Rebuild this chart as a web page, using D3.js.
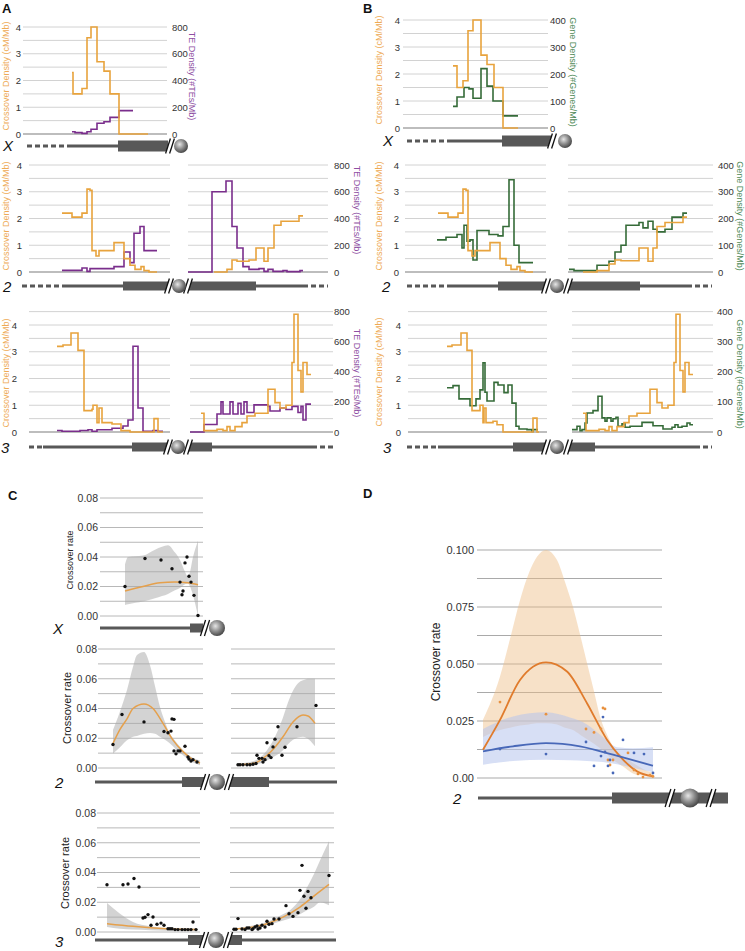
<!DOCTYPE html>
<html><head><meta charset="utf-8">
<script src="https://cdn.jsdelivr.net/npm/d3@7"></script>
<style>body{margin:0;background:#fff}svg{display:block}</style>
</head><body>
<svg id="c" width="745" height="951" font-family="'Liberation Sans', Arial, sans-serif"></svg>
<script>
// ===================== DATA =====================
// Panels A/B: step series as [bin start, value]; the last pair closes the final bin.
// Positions are arm-relative units; crossover density in cM/Mb, TE density #TEs/Mb, gene density #Genes/Mb
const xoA_X  = [[49,2.3],[50,1.5],[59,1.7],[64,3.6],[68,4.0],[74,2.7],[81,2.35],[87,1.5],[96,0],[125,0]];
const teA_X  = [[49,17],[52,10],[59,5],[64,17],[68,35],[74,80],[81,92],[87,124],[96,175],[110,175]];
const xoB_X  = [[50,2.3],[54,1.5],[60,1.75],[65,3.6],[70,4.0],[78,2.7],[84,2.35],[91,1.5],[100,0],[115,0]];
const geneB_X= [[50,80],[54,115],[61,150],[66,145],[70,110],[78,220],[84,155],[90,100],[100,45],[115,45]];

const xo2L   = [[33,2.2],[43,2.05],[53,2.2],[58,3.1],[61,3.05],[63,0.8],[67,0.6],[70,0.8],[85,1.1],[95,0.5],[101,0.25],[106,0.1],[112,0.2],[115,0.05],[120,0],[128,0]];
const te2L   = [[33,12],[53,30],[58,5],[61,25],[85,40],[95,150],[101,70],[105,290],[111,340],[115,160],[128,160]];
const gene2L = [[32,120],[41,130],[52,140],[57,90],[59,175],[62,115],[65,120],[68,45],[72,155],[84,140],[93,135],[98,170],[104,345],[109,100],[114,35],[128,35]];
const xo2R_A = [[26,0],[39,0.1],[44,0.45],[49,0.4],[61,0.45],[68,0.9],[76,0.4],[80,0.9],[86,1.75],[93,1.9],[111,2.1],[115,2.1]];
const te2R   = [[0,0],[24,600],[38,680],[44,340],[49,180],[55,40],[61,20],[71,25],[76,5],[80,20],[85,5],[95,10],[99,3],[112,10],[115,10]];
const xo2R_B = [[15,0],[29,0.05],[41,0.3],[47,0.45],[53,0.42],[71,0.9],[80,0.4],[85,0.9],[89,1.7],[97,1.85],[115,2.05],[119,2.05]];
const gene2R = [[1,10],[6,5],[15,5],[29,25],[41,40],[47,75],[53,100],[58,175],[71,185],[75,165],[80,190],[85,160],[89,150],[97,160],[104,205],[115,220],[119,220]];

const xo3L_A = [[28,3.2],[34,3.25],[42,3.7],[49,3.05],[55,0.8],[63,0.85],[64,1.0],[68,0.35],[70,0.9],[73,0.35],[83,0.3],[92,0.05],[101,0],[125,0.5],[129,0],[134,0]];
const te3L   = [[28,10],[33,5],[43,5],[51,10],[59,15],[63,5],[68,15],[83,25],[94,40],[99,80],[104,570],[109,160],[114,5],[124,10],[129,5],[134,5]];
const xo3L_B = [[39,3.2],[44,3.25],[53,3.7],[59,3.05],[64,0.8],[72,1.0],[75,0.35],[76,0.9],[78,0.35],[85,0.4],[89,0.27],[95,0],[125,0.52],[129,0],[131,0]];
const gene3L = [[39,147],[45,154],[51,110],[62,87],[68,110],[72,140],[75,230],[77,132],[79,103],[86,165],[90,156],[96,131],[100,156],[104,96],[108,19],[111,10],[119,8],[124,2],[125,8],[130,8]];
const xo3R   = [[11,0.7],[14,0.05],[27,0.1],[33,0.05],[37,0.2],[40,0.05],[45,0.2],[52,0.35],[57,0.6],[65,0.7],[78,1.6],[85,1.1],[90,0.9],[96,1.0],[102,2.6],[104,4.4],[108,2.3],[111,1.5],[113,2.6],[117,2.15],[121,2.15]];
const te3R   = [[0,0],[14,50],[27,120],[31,200],[33,120],[40,200],[43,120],[48,190],[51,120],[54,200],[57,130],[64,180],[78,170],[80,140],[90,160],[96,150],[102,170],[108,130],[111,170],[113,80],[116,185],[121,185]];
const gene3R = [[0,8],[5,19],[8,4],[10,8],[13,30],[15,63],[21,71],[26,119],[30,47],[33,36],[35,47],[39,36],[41,44],[44,49],[46,19],[50,27],[53,16],[58,19],[70,32],[81,21],[91,10],[100,16],[103,24],[106,16],[110,19],[115,30],[118,24],[121,24]];

const cmTicks   = [0,1,2,3,4];
const teTicks   = [0,200,400,600,800];
const geneTicks = [0,100,200,300,400];

// Panel C: crossover rate points, fitted curve, and CI band [pos, lower, upper]
const ptsCX  = [[25,0.020],[45,0.039],[61,0.038],[72,0.032],[80,0.023],[82,0.0144],[83,0.017],[85,0.036],[87,0.040],[89,0.027],[91,0.023],[94,0.014],[98,0.0003]];
const fitCX  = [[25,0.017],[43,0.020],[60,0.0225],[75,0.023],[88,0.0225],[98,0.0212]];
const bandCX = [[25,0.0075,0.035],[28,0.008,0.040],[43,0.0098,0.041],[55,0.012,0.045],[62,0.0135,0.047],[68,0.015,0.048],[75,0.0175,0.043],[80,0.019,0.038],[85,0.0215,0.030],[88,0.022,0.0265],[90,0.020,0.030],[93,0.014,0.040],[96,0.006,0.047],[98,0.0,0.051]];

const ptsC2L  = [[15,0.0158],[24,0.036],[46,0.031],[66,0.0245],[70,0.0237],[73,0.0248],[74,0.033],[76,0.0327],[76,0.0115],[78,0.0095],[80,0.0115],[82,0.0115],[87,0.0146],[90,0.0074],[91,0.006],[93,0.0047],[95,0.0056],[99,0.004]];
const fitC2L  = [[15,0.0165],[22,0.026],[29,0.033],[35,0.040],[46,0.043],[55,0.040],[65,0.030],[75,0.0187],[85,0.011],[95,0.0056],[102,0.0034]];
const bandC2L = [[15,0.0097,0.0255],[22,0.014,0.038],[29,0.0187,0.0525],[35,0.021,0.068],[39,0.0215,0.076],[46,0.023,0.078],[52,0.0236,0.069],[57,0.023,0.055],[62,0.021,0.041],[67,0.019,0.031],[72,0.0164,0.023],[78,0.0125,0.0175],[85,0.0086,0.012],[93,0.0045,0.0075],[102,0.0018,0.005]];
const ptsC2R  = [[7,0.0022],[9,0.0022],[12,0.0022],[16,0.0022],[19,0.0022],[22,0.0025],[25,0.003],[26,0.0086],[28,0.0065],[31,0.0065],[32,0.004],[34,0.0056],[36,0.017],[38,0.0083],[40,0.007],[42,0.0142],[44,0.0194],[47,0.0277],[51,0.0086],[54,0.014],[66,0.0277],[85,0.042]];
const fitC2R  = [[7,0.0022],[22,0.003],[36,0.0086],[44,0.014],[52,0.021],[62,0.031],[72,0.0356],[77,0.035],[84,0.030]];
const bandC2R = [[7,0.0015,0.003],[22,0.002,0.0045],[36,0.005,0.012],[44,0.008,0.021],[52,0.012,0.034],[57,0.016,0.044],[62,0.019,0.052],[67,0.0205,0.057],[72,0.021,0.059],[78,0.019,0.060],[84,0.0146,0.060]];

const ptsC3L  = [[10,0.0318],[26,0.0318],[31,0.0323],[37,0.036],[42,0.0303],[46,0.0094],[48,0.0099],[51,0.0117],[54,0.0045],[56,0.0101],[60,0.0052],[64,0.006],[67,0.0045],[71,0.0022],[73,0.0022],[75,0.0022],[78,0.0016],[81,0.0016],[85,0.0016],[88,0.0016],[91,0.0016],[94,0.0016],[96,0.0067],[99,0.0016]];
const fitC3L  = [[10,0.0056],[36,0.0038],[70,0.0022],[100,0.0016]];
const bandC3L = [[10,0.0034,0.0195],[23,0.0022,0.0123],[36,0.0016,0.0067],[53,0.0012,0.0038],[70,0.0009,0.0025],[100,0.0007,0.0022]];
const ptsC3R  = [[4,0.0018],[6,0.0018],[8,0.009],[12,0.002],[15,0.0016],[17,0.0027],[19,0.0027],[22,0.0016],[23,0.0022],[25,0.0034],[27,0.004],[28,0.002],[30,0.0027],[32,0.0045],[35,0.0034],[37,0.0072],[39,0.0052],[42,0.0056],[44,0.0087],[49,0.0087],[56,0.0177],[59,0.0123],[63,0.0105],[68,0.013],[70,0.028],[72,0.0448],[74,0.024],[76,0.016],[78,0.0273],[81,0.023],[99,0.038]];
const fitC3R  = [[3,0.0018],[20,0.003],[37,0.0056],[53,0.010],[70,0.0168],[87,0.0258],[99,0.032]];
const bandC3R = [[3,0.0016,0.0022],[20,0.003,0.004],[37,0.0045,0.0067],[50,0.007,0.011],[60,0.009,0.0146],[70,0.012,0.022],[77,0.0146,0.030],[84,0.017,0.039],[90,0.020,0.048],[99,0.018,0.061]];
const cTicks = [0,0.02,0.04,0.06,0.08];

// Panel D: two series on arm 2L
const fitDo  = [[6,0.0124],[23,0.0255],[43,0.043],[69,0.0507],[90,0.0467],[110,0.0328],[130,0.0168],[143,0.0095],[160,0.0029],[176,0.0007]];
const bandDo = [[6,0.018,0.0255],[23,0.021,0.0445],[33,0.022,0.061],[43,0.023,0.078],[52,0.0235,0.090],[60,0.024,0.097],[69,0.024,0.100],[80,0.0235,0.0956],[88,0.022,0.086],[96,0.021,0.075],[103,0.019,0.063],[110,0.017,0.0504],[117,0.015,0.038],[123,0.013,0.027],[130,0.0105,0.019],[136,0.008,0.0139],[146,0.005,0.0095],[156,0.002,0.0066],[166,0.001,0.004],[176,0.0,0.0022]];
const fitDb  = [[6,0.0117],[36,0.0139],[69,0.0153],[103,0.0139],[136,0.0102],[176,0.0054]];
const bandDb = [[6,0.0058,0.0215],[36,0.0075,0.027],[69,0.008,0.0288],[93,0.0078,0.0265],[110,0.0075,0.0235],[126,0.007,0.018],[140,0.006,0.0135],[156,0.0045,0.013],[176,0.0025,0.0135]];
const ptsDo  = [[23,0.0333],[69,0.028],[109,0.0215],[117,0.020],[124,0.0215],[126,0.0307],[128,0.0303],[131,0.0079],[133,0.0057],[136,0.0079],[151,0.011],[157,0.0035],[161,0.0018],[166,0.0004],[173,0.0013],[176,0.0007]];
const ptsDb  = [[23,0.0127],[69,0.0105],[109,0.0158],[117,0.0053],[124,0.0096],[126,0.0267],[128,0.0114],[131,0.0053],[133,0.0079],[136,0.0022],[146,0.0167],[157,0.011],[167,0.0105],[176,0.0022]];
const dTicks = [0,0.025,0.05,0.075,0.1];

// ===================== DRAWING =====================
const S = d3.select("#c");
const FONT = "'Liberation Sans', Arial, sans-serif";
const ORANGE = "#E8A33D", PURPLE = "#7A2E8C", GREEN = "#356B38", CHR = "#585858";

const defs = S.append("defs");
const rg = defs.append("radialGradient").attr("id","cen").attr("cx","40%").attr("cy","38%").attr("r","62%");
rg.append("stop").attr("offset","0%").attr("stop-color","#e6e6e6");
rg.append("stop").attr("offset","55%").attr("stop-color","#8c8c8c");
rg.append("stop").attr("offset","100%").attr("stop-color","#4a4a4a");

function vtext(x, y, txt, size, color, rot) {
  S.append("text").attr("transform",`translate(${x},${y}) rotate(${rot})`)
    .attr("text-anchor","middle").attr("dominant-baseline","central")
    .attr("font-size",size).attr("fill",color).text(txt);
}
function panelLabel(x, y, t) {
  S.append("text").attr("x",x).attr("y",y).attr("font-size",13).attr("font-weight","bold").attr("fill","#111").text(t);
}

function drawChrom(c) {
  const g = S.append("g");
  (c.dash||[]).forEach(([a,b]) => g.append("line").attr("x1",a).attr("x2",b).attr("y1",c.y).attr("y2",c.y)
      .attr("stroke",CHR).attr("stroke-width",c.lw).attr("stroke-dasharray","5,3"));
  (c.thin||[]).forEach(([a,b]) => g.append("line").attr("x1",a).attr("x2",b).attr("y1",c.y).attr("y2",c.y)
      .attr("stroke",CHR).attr("stroke-width",c.lw));
  (c.thick||[]).forEach(([a,b]) => g.append("rect").attr("x",a).attr("y",c.y-c.h/2).attr("width",b-a).attr("height",c.h).attr("fill",CHR));
  (c.breaks||[]).forEach(x => {
    const hh = c.bh, s = 0.32;
    g.append("polygon").attr("points",
      `${x-2-hh*s},${c.y+hh} ${x-2+hh*s},${c.y-hh} ${x+2+hh*s},${c.y-hh} ${x+2-hh*s},${c.y+hh}`).attr("fill","#fff");
    [-2,2].forEach(o => g.append("line").attr("x1",x+o-hh*s).attr("y1",c.y+hh).attr("x2",x+o+hh*s).attr("y2",c.y-hh)
      .attr("stroke","#111").attr("stroke-width",1.3));
  });
  g.append("circle").attr("cx",c.cen[0]).attr("cy",c.y).attr("r",c.cen[1]).attr("fill","url(#cen)");
  g.append("text").attr("x",c.lab[0]).attr("y",c.lab[1]).attr("font-style","italic").attr("font-size",15).attr("fill","#111").text(c.lab[2]);
}

function styleAxis(ax, size) {
  ax.attr("font-family",FONT).attr("font-size",size);
  ax.select(".domain").remove();
  ax.selectAll("text").attr("fill","#333");
}

function densityRow(r, secColor, secMax, secTicks, secTitle, secTitleColor) {
  const yL = d3.scaleLinear().domain([0, r.max]).range([r.y0, r.y0 - r.max * r.unit]);
  const yR = d3.scaleLinear().domain([0, secMax]).range([r.y0, yL(r.secLevel)]);
  const g = S.append("g");
  r.subs.forEach(s => {
    const x = d3.scaleLinear().domain([0, s.g1 - s.g0]).range([s.g0, s.g1]);
    g.append("g").selectAll("line").data(d3.range(0.5, r.max + 0.01, 0.5)).join("line")
      .attr("x1", s.g0).attr("x2", s.g1).attr("y1", d => yL(d)).attr("y2", d => yL(d))
      .attr("stroke","#d2d2d2").attr("stroke-width",1);
    g.append("line").attr("x1", s.g0).attr("x2", s.g1).attr("y1", yL(0)).attr("y2", yL(0))
      .attr("stroke","#bdbdbd").attr("stroke-width",2);
    const ln = ys => d3.line().x(d => x(d[0])).y(d => ys(d[1])).curve(d3.curveStepAfter);
    g.append("path").attr("d", ln(yR)(s.sec)).attr("fill","none").attr("stroke",secColor).attr("stroke-width",1.6);
    g.append("path").attr("d", ln(yL)(s.xo)).attr("fill","none").attr("stroke",ORANGE).attr("stroke-width",1.6);
  });
  const axL = g.append("g").attr("transform",`translate(${r.tickX},0)`)
    .call(d3.axisLeft(yL).tickValues(cmTicks).tickSize(0).tickPadding(0).tickFormat(d3.format("d")));
  styleAxis(axL, 9.5);
  const axR = g.append("g").attr("transform",`translate(${r.rightX},0)`)
    .call(d3.axisRight(yR).tickValues(secTicks).tickSize(0).tickPadding(0).tickFormat(d3.format("d")));
  styleAxis(axR, 9.5);
  vtext(r.leftTitle[0], r.leftTitle[1], "Crossover Density (cM/Mb)", 9, "#EEAA55", -90);
  vtext(r.rightTitle[0], r.rightTitle[1], secTitle, 9, secTitleColor, 90);
}

// ---- Panel A ----
panelLabel(2, 13, "A");
const rowsA = [
  {y0:134, unit:26.75, max:4, secLevel:4, tickX:21, rightX:172, leftTitle:[6,76], rightTitle:[192,76],
   subs:[{g0:23,g1:167,xo:xoA_X,sec:teA_X}]},
  {y0:272, unit:26.75, max:4, secLevel:4, tickX:22, rightX:334, leftTitle:[6,216], rightTitle:[357,210],
   subs:[{g0:29,g1:170,xo:xo2L,sec:te2L},{g0:188,g1:328,xo:xo2R_A,sec:te2R}]},
  {y0:432, unit:26.75, max:4.5, secLevel:4.5, tickX:17, rightX:334, leftTitle:[6,373], rightTitle:[357,373],
   subs:[{g0:29,g1:170,xo:xo3L_A,sec:te3L},{g0:190,g1:333,xo:xo3R,sec:te3R}]}
];
rowsA.forEach(r => densityRow(r, PURPLE, 800, teTicks, "TE Density (#TEs/Mb)", "#8E4FA3"));

// ---- Panel B ----
panelLabel(363, 13, "B");
const rowsB = [
  {y0:128, unit:27, max:4, secLevel:4, tickX:400, rightX:550, leftTitle:[379,70], rightTitle:[573,72],
   subs:[{g0:403,g1:548,xo:xoB_X,sec:geneB_X}]},
  {y0:272, unit:26.75, max:4, secLevel:4, tickX:399, rightX:718, leftTitle:[379,216], rightTitle:[740,216],
   subs:[{g0:405,g1:546,xo:xo2L,sec:gene2L},{g0:568,g1:713,xo:xo2R_B,sec:gene2R}]},
  {y0:432, unit:26.75, max:4.5, secLevel:4.5, tickX:401, rightX:717, leftTitle:[379,372], rightTitle:[740,374],
   subs:[{g0:408,g1:547,xo:xo3L_B,sec:gene3L},{g0:572,g1:713,xo:xo3R,sec:gene3R}]}
];
rowsB.forEach(r => densityRow(r, GREEN, 400, geneTicks, "Gene Density (#Genes/Mb)", "#4E8A57"));

// chromosomes A/B
[
 {y:146, lw:3, h:11, bh:7.5, dash:[[27,67]], thin:[[67,118]], thick:[[118,168]], breaks:[170], cen:[181,7], lab:[3,151,"X"]},
 {y:286, lw:3, h:9, bh:7.5, dash:[[22,63],[303,328]], thin:[[63,123],[256,303]], thick:[[123,170],[189,256]], breaks:[169,188], cen:[179,7], lab:[3,292,"2"]},
 {y:447, lw:3, h:9, bh:7.5, dash:[[29,43],[312,333]], thin:[[43,132],[212,312]], thick:[[132,168],[188,212]], breaks:[168,188], cen:[178,7], lab:[1,453,"3"]},
 {y:141, lw:3, h:11, bh:7.5, dash:[[407,450]], thin:[[450,502]], thick:[[502,551]], breaks:[552], cen:[565,7], lab:[383,146,"X"]},
 {y:286, lw:3, h:9, bh:7.5, dash:[[407,450],[687,712]], thin:[[450,498],[640,687]], thick:[[498,547],[567,640]], breaks:[546,568], cen:[557,7], lab:[382,292,"2"]},
 {y:447, lw:3, h:9, bh:7.5, dash:[[407,438],[695,712]], thin:[[438,513],[595,695]], thick:[[513,547],[567,595]], breaks:[546,568], cen:[557,7], lab:[383,453,"3"]}
].forEach(drawChrom);

// ---- Panels C / D ----
function ratePanel(p) {
  const y = d3.scaleLinear().domain([0, p.max]).range([p.y0, p.yTop]);
  const g = S.append("g");
  p.subs.forEach(s => {
    const x = d3.scaleLinear().domain([0, s.g1 - s.g0]).range([s.g0, s.g1]);
    g.append("g").selectAll("line").data(d3.range(0, p.max + 1e-9, p.step)).join("line")
      .attr("x1", s.g0).attr("x2", s.g1).attr("y1", d => y(d)).attr("y2", d => y(d))
      .attr("stroke", p.gridColor).attr("stroke-width", p.gridW);
    (s.bands||[]).forEach(b => {
      g.append("path").attr("d", d3.area().x(d => x(d[0])).y0(d => y(d[1])).y1(d => y(d[2]))
        .curve(d3.curveMonotoneX)(b.data)).attr("fill", b.fill).attr("fill-opacity", b.op);
    });
    (s.fits||[]).forEach(f => {
      g.append("path").attr("d", d3.line().x(d => x(d[0])).y(d => y(d[1])).curve(d3.curveMonotoneX)(f.data))
        .attr("fill","none").attr("stroke", f.color).attr("stroke-width", f.w);
    });
    (s.pts||[]).forEach(pp => {
      g.append("g").selectAll("circle").data(pp.data).join("circle")
        .attr("cx", d => x(d[0])).attr("cy", d => y(d[1])).attr("r", pp.r).attr("fill", pp.color);
    });
  });
  const ax = g.append("g").attr("transform",`translate(${p.tickX},0)`)
    .call(d3.axisLeft(y).tickValues(p.ticks).tickSize(0).tickPadding(0).tickFormat(p.fmt));
  styleAxis(ax, p.tickSize);
  vtext(p.title[0], p.title[1], "Crossover rate", p.title[2], "#222", -90);
}

panelLabel(8, 500, "C");
const fmt2 = d3.format(".2f");
const cBand = d => ({data:d, fill:"#a8a8a8", op:0.5});
const cFit  = d => ({data:d, color:"#E5A04C", w:1.5});
const cPts  = d => ({data:d, color:"#111", r:1.7});
ratePanel({y0:616, yTop:498, max:0.08, step:0.01, gridColor:"#b8b8b8", gridW:1, tickX:98, ticks:cTicks, fmt:fmt2, tickSize:10.5,
  title:[70,560,9], subs:[{g0:100,g1:203,bands:[cBand(bandCX)],fits:[cFit(fitCX)],pts:[cPts(ptsCX)]}]});
ratePanel({y0:768, yTop:649, max:0.08, step:0.01, gridColor:"#b8b8b8", gridW:1, tickX:97, ticks:cTicks, fmt:fmt2, tickSize:10.5,
  title:[67,708,11], subs:[
    {g0:98,g1:203,bands:[cBand(bandC2L)],fits:[cFit(fitC2L)],pts:[cPts(ptsC2L)]},
    {g0:231,g1:335,bands:[cBand(bandC2R)],fits:[cFit(fitC2R)],pts:[cPts(ptsC2R)]}]});
ratePanel({y0:932, yTop:813, max:0.08, step:0.01, gridColor:"#b8b8b8", gridW:1, tickX:96, ticks:cTicks, fmt:fmt2, tickSize:10.5,
  title:[65,873,11], subs:[
    {g0:97,g1:200,bands:[cBand(bandC3L)],fits:[cFit(fitC3L)],pts:[cPts(ptsC3L)]},
    {g0:230,g1:334,bands:[cBand(bandC3R)],fits:[cFit(fitC3R)],pts:[cPts(ptsC3R)]}]});

panelLabel(363, 498, "D");
ratePanel({y0:778, yTop:550, max:0.1, step:0.0125, gridColor:"#a9a9a9", gridW:1.2, tickX:474, ticks:dTicks,
  fmt: d => d === 0 ? "0.00" : d3.format(".3f")(d), tickSize:11, title:[436,662,12],
  subs:[{g0:477,g1:662,
    bands:[{data:bandDo, fill:"#EDBD84", op:0.45},{data:bandDb, fill:"#B7C5EC", op:0.55}],
    fits:[{data:fitDo, color:"#E07B2C", w:1.8},{data:fitDb, color:"#4868B8", w:1.8}],
    pts:[{data:ptsDo, color:"#E8913F", r:1.4},{data:ptsDb, color:"#4868B8", r:1.4}]}]});

[
 {y:628, lw:3, h:9, bh:8, thin:[[100,190]], thick:[[190,203]], breaks:[205], cen:[217,8], lab:[53,634,"X"]},
 {y:782, lw:3, h:10, bh:8, thin:[[95,182],[269,337]], thick:[[182,205],[228,269]], breaks:[205,229], cen:[217,8], lab:[55,788,"2"]},
 {y:940, lw:3, h:10, bh:8, thin:[[95,188],[242,336]], thick:[[188,205],[228,242]], breaks:[204,228], cen:[216,8], lab:[55,947,"3"]},
 {y:798, lw:3, h:11, bh:9, thin:[[478,612]], thick:[[612,728]], breaks:[670,711], cen:[690,9.5], lab:[453,804,"2"]}
].forEach(drawChrom);
</script>
</body></html>
